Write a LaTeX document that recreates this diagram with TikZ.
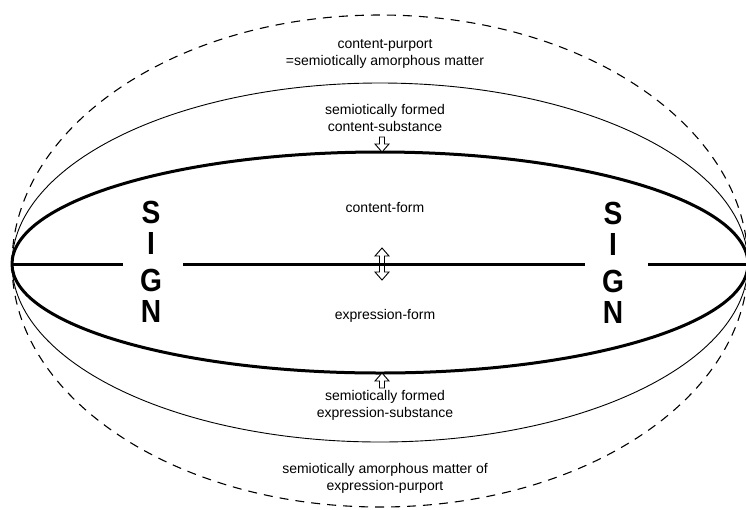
\documentclass[tikz,border=0pt]{standalone}
\usepackage{fontspec}
\setmainfont{Liberation Sans}
\begin{document}
\begin{tikzpicture}[x=1pt,y=-1pt,
  thickline/.style={line width=3pt},
  thinline/.style={line width=0.9pt},
  dashline/.style={line width=1.1pt, dash pattern=on 9pt off 7pt},
  lbl/.style={font=\fontsize{14}{17}\selectfont, align=center, inner sep=0pt},
  signl/.style={font=\fontsize{32}{32}\selectfont\bfseries, inner sep=0pt, xscale=0.88},
  hollow/.style={draw, line width=0.9pt, fill=white, line join=miter}]
\useasboundingbox (0,0) rectangle (746,509);
\coordinate (L) at (12,264);
\coordinate (R) at (748,264);
% dashed outer ellipse
\draw[dashline] (L) arc[start angle=180, end angle=0, x radius=368pt, y radius=249pt];
\draw[dashline] (L) arc[start angle=180, end angle=360, x radius=368pt, y radius=243pt];
% thin ellipse
\draw[thinline] (L) arc[start angle=180, end angle=0, x radius=368pt, y radius=181pt];
\draw[thinline] (L) arc[start angle=180, end angle=360, x radius=368pt, y radius=178pt];
% thick ellipse
\draw[thickline] (L) arc[start angle=180, end angle=0, x radius=368pt, y radius=112pt];
\draw[thickline] (L) arc[start angle=180, end angle=360, x radius=368pt, y radius=109pt];
% horizontal line
\coordinate (h1) at (123,264);
\coordinate (h2) at (183,264);
\coordinate (h3) at (585,264);
\coordinate (h4) at (648,264);
\draw[thickline] (L) -- (h1);
\draw[thickline] (h2) -- (h3);
\draw[thickline] (h4) -- (R);
% arrows
\coordinate (ta) at (382,152);
\coordinate (ba) at (382,373);
\coordinate (ma) at (382,264);
\draw[hollow, shift={(ta)}] (-2.5,-15) -- (2.5,-15) -- (2.5,-8) -- (7,-8) -- (0,0) -- (-7,-8) -- (-2.5,-8) -- cycle;
\draw[hollow, shift={(ba)}] (-2.5,15) -- (2.5,15) -- (2.5,8) -- (7,8) -- (0,0) -- (-7,8) -- (-2.5,8) -- cycle;
\draw[line width=0.9pt, line join=miter, shift={(ma)}] (0,-16) -- (7,-8) -- (2.5,-8) -- (2.5,8) -- (7,8) -- (0,16) -- (-7,8) -- (-2.5,8) -- (-2.5,-8) -- (-7,-8) -- cycle;
% labels
\node[lbl] (cp) at (385,54) {content-purport\\=semiotically amorphous matter};
\node[lbl] (cs) at (385,118) {semiotically formed\\content-substance};
\node[lbl] (cf) at (385,207) {content-form};
\node[lbl] (ef) at (385,316) {expression-form};
\node[lbl] (es) at (385,405) {semiotically formed\\expression-substance};
\node[lbl] (ep) at (385,478) {semiotically amorphous matter of\\expression-purport};
% SIGN
\node[signl] (sL) at (151,212) {S};
\node[signl] (iL) at (151,243) {I};
\node[signl] (gL) at (151,280) {G};
\node[signl] (nL) at (151,311) {N};
\node[signl] (sR) at (613,213) {S};
\node[signl] (iR) at (613,244) {I};
\node[signl] (gR) at (613,281) {G};
\node[signl] (nR) at (613,312) {N};
\end{tikzpicture}
\end{document}
